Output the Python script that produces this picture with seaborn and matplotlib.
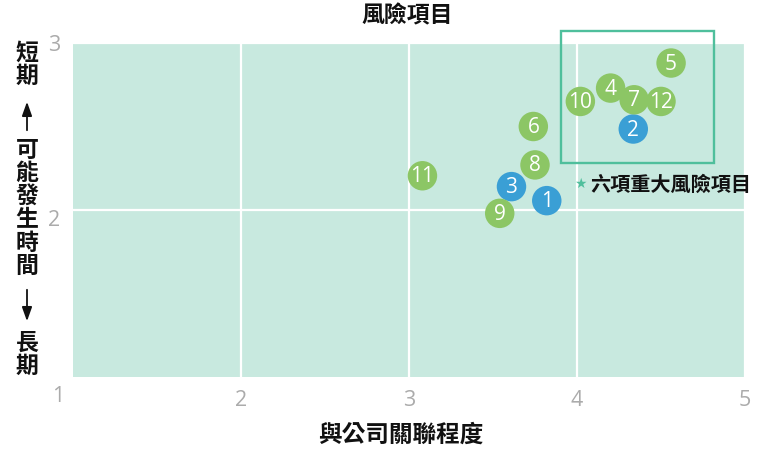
import matplotlib
matplotlib.use("Agg")
import matplotlib.pyplot as plt
from matplotlib.patches import Rectangle, FancyArrowPatch
import pandas as pd
import seaborn as sns

# Risk items: id, relevance to company (x), time horizon (y), group
risk_ids = [1, 2, 3, 4, 5, 6, 7, 8, 9, 10, 11, 12]
relevance = [3.82, 4.335, 3.61, 4.20, 4.56, 3.74, 4.34, 3.75, 3.54, 4.02, 3.08, 4.50]
horizon = [2.056, 2.485, 2.14, 2.73, 2.88, 2.50, 2.66, 2.27, 1.98, 2.65, 2.205, 2.65]
group = ["blue", "blue", "blue", "green", "green", "green",
         "green", "green", "green", "green", "green", "green"]

x_ticks = [2, 3, 4, 5]
y_ticks = [2, 3]
corner_tick = "1"
title = "風險項目"
x_label = "與公司關聯程度"
box_label = "六項重大風險項目"

# Major-risk frame in data units
box_x0, box_x1 = 3.905, 4.815
box_y0, box_y1 = 2.281, 3.072

GREEN = "#8cc665"
BLUE = "#3a9fd5"
BG = "#c8e9df"
FRAME = "#4fbf9c"
TICK = "#ababab"
TICK_FONT = ["Open Sans", "DejaVu Sans"]

sns.set_style("white")
plt.rcParams["font.family"] = ["Noto Sans CJK TC", "DejaVu Sans"]

df = pd.DataFrame({"id": risk_ids, "x": relevance, "y": horizon, "group": group})

fig = plt.figure(figsize=(7.58, 4.5), dpi=100)
ax = fig.add_axes([73 / 758, 1 - 377 / 450, 672 / 758, 334 / 450])
ax.set_facecolor(BG)

sns.scatterplot(data=df, x="x", y="y", hue="group",
                palette={"green": GREEN, "blue": BLUE},
                s=450, linewidth=0, legend=False, ax=ax, zorder=3)

for _, r in df.iterrows():
    ax.text(r["x"], r["y"] - 0.006, str(r["id"]), color="white",
            fontsize=15, ha="center", va="center", zorder=4,
            family=["Open Sans", "DejaVu Sans"])

ax.set_xlim(1, 5)
ax.set_ylim(1, 3)
ax.set_xticks(x_ticks)
ax.set_yticks(y_ticks)
ax.set_xticklabels([str(v) for v in x_ticks])
ax.set_yticklabels([str(v) for v in y_ticks])
for lbl in ax.get_xticklabels() + ax.get_yticklabels():
    lbl.set_family(TICK_FONT)
    lbl.set_fontsize(15.5)
    lbl.set_color(TICK)
ax.get_yticklabels()[0].set_va("top")
ax.tick_params(axis="x", length=0, pad=9)
ax.tick_params(axis="y", length=0, pad=9)
ax.grid(True, color="white", linewidth=1.6)
ax.set_axisbelow(True)
for sp in ax.spines.values():
    sp.set_visible(False)
ax.set_xlabel("")
ax.set_ylabel("")

# Shared corner label at the origin
fig.text(58 / 758, 1 - 397 / 450, corner_tick, fontsize=15.5,
         family=TICK_FONT, color=TICK, ha="center", va="center")

# Frame around the six major risks
ax.add_patch(Rectangle((box_x0, box_y0), box_x1 - box_x0, box_y1 - box_y0,
                       fill=False, edgecolor=FRAME, linewidth=1.7,
                       clip_on=False, zorder=5))
ax.text(4.02, 2.156, "★", color=FRAME, fontsize=10, ha="center", va="center",
        family="DejaVu Sans", clip_on=False)
ax.text(4.08, 2.156, box_label, color="#111111", fontsize=14.5,
        fontweight="bold", ha="left", va="center", clip_on=False)

# Title and x-axis label
fig.text(407 / 758, 1 - 16 / 450, title, fontsize=16.5, fontweight="bold",
         ha="center", va="center", color="#111111")
fig.text(401 / 758, 1 - 435 / 450, x_label, fontsize=17, fontweight="bold",
         ha="center", va="center", color="#111111")

# Vertical y-axis caption with arrows
def vtext(chars, y_top_px):
    for i, ch in enumerate(chars):
        fig.text(27 / 758, 1 - (y_top_px + i * 23.3) / 450, ch, fontsize=16.5,
                 fontweight="bold", ha="center", va="center", color="#111111")

vtext("短期", 53)
vtext("可能發生時間", 150)
vtext("長期", 343)

arrow_kw = dict(arrowstyle="-|>,head_length=0.7,head_width=0.25",
                color="#111111", lw=1.3)
fig.add_artist(FancyArrowPatch(
    (27 / 758, 1 - 133 / 450), (27 / 758, 1 - 99 / 450),
    transform=fig.transFigure, mutation_scale=12, **arrow_kw))
fig.add_artist(FancyArrowPatch(
    (27 / 758, 1 - 287 / 450), (27 / 758, 1 - 324 / 450),
    transform=fig.transFigure, mutation_scale=12, **arrow_kw))

fig.savefig("out.png", dpi=100)
